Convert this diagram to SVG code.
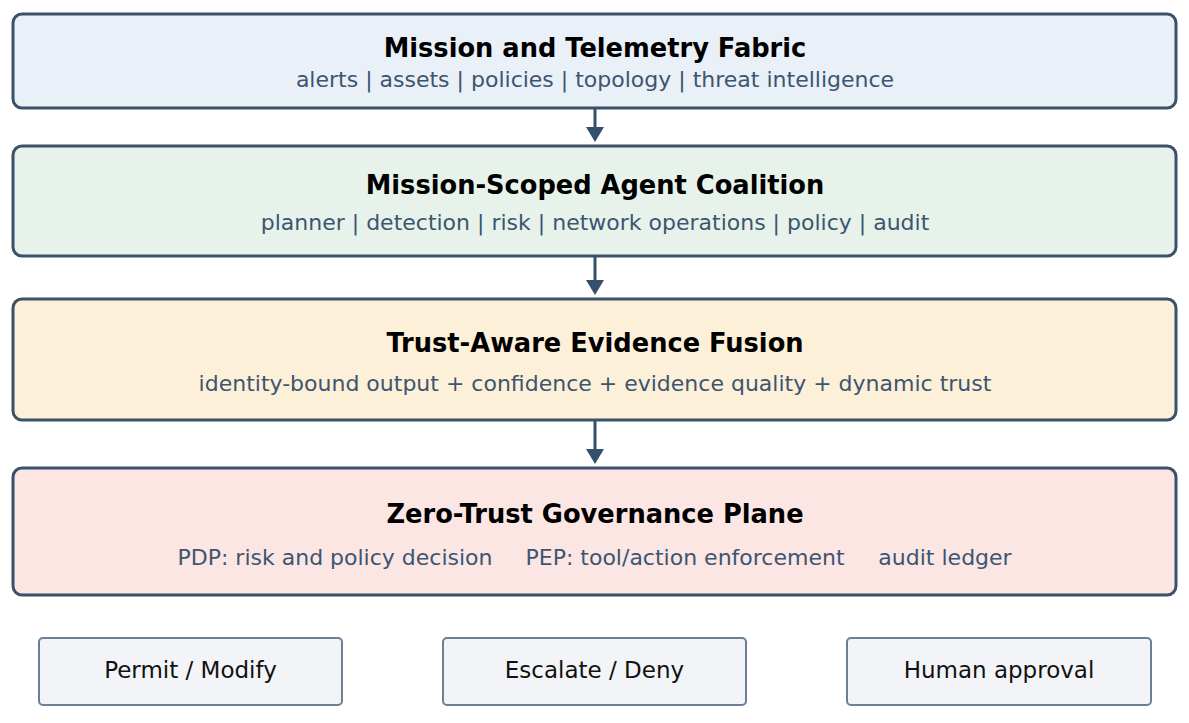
<svg xmlns="http://www.w3.org/2000/svg" width="1189" height="723" viewBox="0 0 1189 723">
<defs>
<marker id="ah" markerWidth="5" markerHeight="6" refX="0" refY="3" orient="auto" markerUnits="strokeWidth">
<path d="M0,0 L5,3 L0,6 z" fill="#34506c"/>
</marker>
<style>
.layer{stroke:#3b5169;stroke-width:3}
.title{font-family:"DejaVu Sans",sans-serif;font-weight:bold;font-size:25.7px;fill:#000;text-anchor:middle}
.sub{font-family:"DejaVu Sans",sans-serif;font-size:22px;fill:#3d5570;text-anchor:middle}
.out{fill:#f2f4f7;stroke:#6b7f96;stroke-width:2}
.outt{font-family:"DejaVu Sans",sans-serif;font-size:23px;fill:#111;text-anchor:middle}
.conn{stroke:#34506c;stroke-width:3;fill:none}
</style>
</defs>
<rect width="1189" height="723" fill="#fff"/>
<g id="fabric">
<rect class="layer" x="13" y="14" width="1163" height="94" rx="9" fill="#eaf0f7"/>
<text class="title" x="595" y="57">Mission and Telemetry Fabric</text>
<text class="sub" x="595" y="87">alerts | assets | policies | topology | threat intelligence</text>
</g>
<g id="coalition">
<rect class="layer" x="13" y="146" width="1163" height="110" rx="9" fill="#e7f3ea"/>
<text class="title" x="595" y="194">Mission-Scoped Agent Coalition</text>
<text class="sub" x="595" y="230">planner | detection | risk | network operations | policy | audit</text>
</g>
<g id="fusion">
<rect class="layer" x="13" y="299" width="1163" height="121" rx="9" fill="#fdf0d8"/>
<text class="title" x="595" y="352">Trust-Aware Evidence Fusion</text>
<text class="sub" x="595" y="391">identity-bound output + confidence + evidence quality + dynamic trust</text>
</g>
<g id="governance">
<rect class="layer" x="13" y="468" width="1163" height="127" rx="9" fill="#fbe6e4"/>
<text class="title" x="595" y="523">Zero-Trust Governance Plane</text>
<text class="sub" x="335" y="565">PDP: risk and policy decision</text>
<text class="sub" x="685" y="565">PEP: tool/action enforcement</text>
<text class="sub" x="945" y="565">audit ledger</text>
</g>
<g id="permit">
<rect class="out" x="39" y="638" width="303" height="67" rx="4"/>
<text class="outt" x="190.5" y="678">Permit / Modify</text>
</g>
<g id="escalate">
<rect class="out" x="443" y="638" width="303" height="67" rx="4"/>
<text class="outt" x="594.5" y="678">Escalate / Deny</text>
</g>
<g id="human">
<rect class="out" x="847" y="638" width="304" height="67" rx="4"/>
<text class="outt" x="999" y="678">Human approval</text>
</g>
<g id="connectors">
<line class="conn" x1="595" y1="109" x2="595" y2="127" marker-end="url(#ah)"/>
<line class="conn" x1="595" y1="257" x2="595" y2="280" marker-end="url(#ah)"/>
<line class="conn" x1="595" y1="421" x2="595" y2="449" marker-end="url(#ah)"/>
</g>
</svg>
